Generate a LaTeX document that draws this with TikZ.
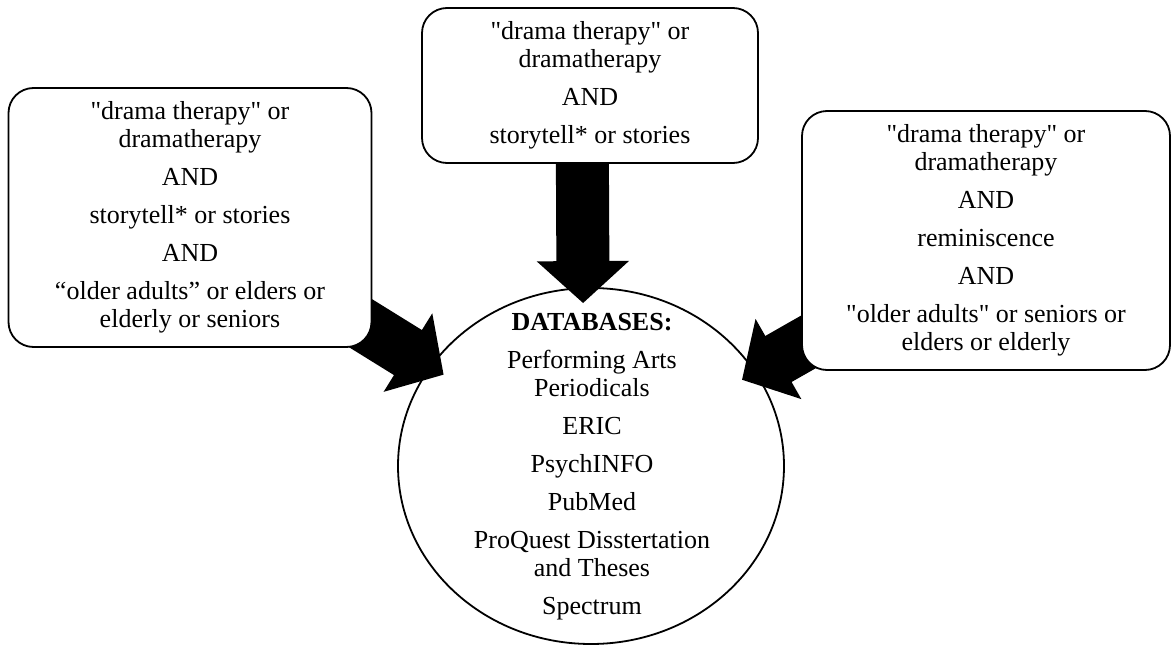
\documentclass[tikz,border=0pt]{standalone}
\usepackage{fontspec}
\setmainfont{Liberation Serif}
\usetikzlibrary{shapes,arrows.meta,backgrounds}
\newcommand{\qt}[1]{\textquotedbl#1\textquotedbl}
\tikzstyle{query} = [rectangle, draw, fill=white, line width=1.8pt,
  rounded corners=25pt, align=center, inner sep=0pt,
  font=\fontsize{26}{28}\selectfont]
\tikzstyle{base} = [ellipse, draw, line width=1.8pt, inner sep=0pt,
  minimum width=386pt, minimum height=356pt]
\tikzstyle{list} = [align=center, inner sep=0pt,
  font=\fontsize{26}{28}\selectfont]
\tikzstyle{fat} = [draw, line width=53pt, shorten >=-16pt,
  -{Triangle[length=42pt, width=90pt]}]

\begin{document}
\begin{tikzpicture}[x=1pt, y=-1pt]
  \useasboundingbox (0,0) rectangle (1173,645);

  \node [query, minimum width=363pt, minimum height=259pt] (dramaStoryOlder) at (190,217.5)
    {\qt{drama therapy} or\\dramatherapy\\[10pt] AND\\[10pt] storytell* or stories\\[10pt]
     AND\\[10pt] “older adults” or elders or\\elderly or seniors};
  \node [query, minimum width=336pt, minimum height=155pt] (dramaStory) at (590,85.5)
    {\qt{drama therapy} or\\dramatherapy\\[10pt] AND\\[10pt] storytell* or stories};
  \node [query, minimum width=368pt, minimum height=259pt] (dramaRemin) at (986,240.5)
    {\qt{drama therapy} or\\dramatherapy\\[10pt] AND\\[10pt] reminiscence\\[10pt]
     AND\\[10pt] \qt{older adults} or seniors or\\elders or elderly};

  \node [list] (dbList) at (592,467)
    {\textbf{DATABASES:}\\[10pt] Performing Arts\\Periodicals\\[10pt] ERIC\\[10pt]
     PsychINFO\\[10pt] PubMed\\[10pt] ProQuest Disstertation\\and Theses\\[10pt] Spectrum};
  \node [base] (databases) at (591,466) {};

  \begin{scope}[on background layer]
  \path [fat] (dramaStoryOlder.center) -- (databases);
  \path [fat] ([xshift=-8pt]dramaStory.center) -- ([xshift=-8pt]databases.north);
  \path [fat] (dramaRemin.center) -- (databases);
  \end{scope}

\end{tikzpicture}
\end{document}
